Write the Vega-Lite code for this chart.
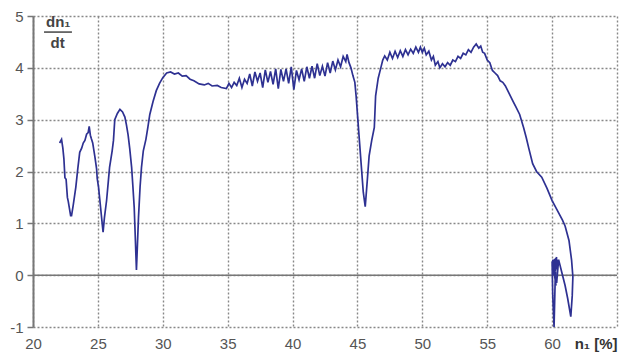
{
  "$schema": "https://vega.github.io/schema/vega-lite/v6.json",
  "width": 584,
  "height": 311,
  "autosize": "none",
  "padding": {"left": 33, "top": 16, "right": 5, "bottom": 36},
  "background": "white",
  "config": {
    "view": {"stroke": null},
    "axis": {"labelFont": "Liberation Sans", "labelFontSize": 15, "labelColor": "#555"}
  },
  "datasets": {
    "curve": [
      {"i":0,"x":22.05,"y":2.55},{"i":1,"x":22.2,"y":2.62},{"i":2,"x":22.3,"y":2.45},{"i":3,"x":22.38,"y":2.25},
      {"i":4,"x":22.46,"y":1.88},{"i":5,"x":22.55,"y":1.85},{"i":6,"x":22.65,"y":1.5},{"i":7,"x":22.72,"y":1.42},
      {"i":8,"x":22.8,"y":1.3},{"i":9,"x":22.9,"y":1.15},{"i":10,"x":22.97,"y":1.15},{"i":11,"x":23.1,"y":1.35},
      {"i":12,"x":23.3,"y":1.7},{"i":13,"x":23.45,"y":2.05},{"i":14,"x":23.6,"y":2.37},{"i":15,"x":23.75,"y":2.45},
      {"i":16,"x":23.87,"y":2.55},{"i":17,"x":24.0,"y":2.6},{"i":18,"x":24.13,"y":2.72},{"i":19,"x":24.25,"y":2.75},
      {"i":20,"x":24.33,"y":2.87},{"i":21,"x":24.42,"y":2.7},{"i":22,"x":24.5,"y":2.63},{"i":23,"x":24.6,"y":2.55},
      {"i":24,"x":24.77,"y":2.28},{"i":25,"x":24.9,"y":2.05},{"i":26,"x":24.95,"y":1.86},{"i":27,"x":25.05,"y":1.7},
      {"i":28,"x":25.15,"y":1.45},{"i":29,"x":25.25,"y":1.2},{"i":30,"x":25.35,"y":0.95},{"i":31,"x":25.4,"y":0.83},
      {"i":32,"x":25.5,"y":1.1},{"i":33,"x":25.67,"y":1.44},{"i":34,"x":25.8,"y":1.8},{"i":35,"x":25.9,"y":2.08},
      {"i":36,"x":26.1,"y":2.4},{"i":37,"x":26.2,"y":2.6},{"i":38,"x":26.3,"y":3.0},{"i":39,"x":26.5,"y":3.12},
      {"i":40,"x":26.7,"y":3.2},{"i":41,"x":26.9,"y":3.15},{"i":42,"x":27.08,"y":3.05},{"i":43,"x":27.2,"y":2.9},
      {"i":44,"x":27.33,"y":2.7},{"i":45,"x":27.45,"y":2.45},{"i":46,"x":27.6,"y":2.08},{"i":47,"x":27.7,"y":1.7},
      {"i":48,"x":27.8,"y":1.3},{"i":49,"x":27.9,"y":0.6},{"i":50,"x":27.97,"y":0.1},{"i":51,"x":28.05,"y":0.6},
      {"i":52,"x":28.13,"y":1.12},{"i":53,"x":28.25,"y":1.7},{"i":54,"x":28.36,"y":2.08},{"i":55,"x":28.5,"y":2.4},
      {"i":56,"x":28.7,"y":2.62},{"i":57,"x":28.85,"y":2.85},{"i":58,"x":29.0,"y":3.1},{"i":59,"x":29.25,"y":3.35},
      {"i":60,"x":29.5,"y":3.56},{"i":61,"x":29.75,"y":3.7},{"i":62,"x":30.0,"y":3.81},{"i":63,"x":30.3,"y":3.9},
      {"i":64,"x":30.6,"y":3.92},{"i":65,"x":30.9,"y":3.88},{"i":66,"x":31.2,"y":3.9},{"i":67,"x":31.5,"y":3.84},
      {"i":68,"x":31.8,"y":3.85},{"i":69,"x":32.1,"y":3.78},{"i":70,"x":32.4,"y":3.75},{"i":71,"x":32.8,"y":3.69},
      {"i":72,"x":33.2,"y":3.67},{"i":73,"x":33.5,"y":3.7},{"i":74,"x":33.8,"y":3.65},{"i":75,"x":34.2,"y":3.66},
      {"i":76,"x":34.5,"y":3.62},{"i":77,"x":34.9,"y":3.6},{"i":78,"x":35.1,"y":3.7},{"i":79,"x":35.3,"y":3.62},
      {"i":80,"x":35.5,"y":3.72},{"i":81,"x":35.7,"y":3.66},{"i":82,"x":35.9,"y":3.8},{"i":83,"x":36.1,"y":3.62},
      {"i":84,"x":36.3,"y":3.78},{"i":85,"x":36.5,"y":3.7},{"i":86,"x":36.7,"y":3.88},{"i":87,"x":36.9,"y":3.65},
      {"i":88,"x":37.1,"y":3.92},{"i":89,"x":37.3,"y":3.74},{"i":90,"x":37.5,"y":3.9},{"i":91,"x":37.7,"y":3.62},
      {"i":92,"x":37.9,"y":3.96},{"i":93,"x":38.1,"y":3.72},{"i":94,"x":38.3,"y":3.93},{"i":95,"x":38.5,"y":3.68},
      {"i":96,"x":38.7,"y":3.98},{"i":97,"x":38.9,"y":3.6},{"i":98,"x":39.1,"y":3.97},{"i":99,"x":39.3,"y":3.74},
      {"i":100,"x":39.5,"y":3.98},{"i":101,"x":39.7,"y":3.7},{"i":102,"x":39.9,"y":4.02},{"i":103,"x":40.1,"y":3.58},
      {"i":104,"x":40.3,"y":3.95},{"i":105,"x":40.5,"y":3.77},{"i":106,"x":40.7,"y":3.98},{"i":107,"x":40.9,"y":3.74},
      {"i":108,"x":41.1,"y":4.02},{"i":109,"x":41.3,"y":3.8},{"i":110,"x":41.5,"y":4.03},{"i":111,"x":41.7,"y":3.8},
      {"i":112,"x":41.9,"y":4.08},{"i":113,"x":42.1,"y":3.85},{"i":114,"x":42.3,"y":4.03},{"i":115,"x":42.5,"y":3.84},
      {"i":116,"x":42.7,"y":4.1},{"i":117,"x":42.9,"y":3.9},{"i":118,"x":43.1,"y":4.13},{"i":119,"x":43.3,"y":3.96},
      {"i":120,"x":43.5,"y":4.15},{"i":121,"x":43.7,"y":4.02},{"i":122,"x":43.9,"y":4.22},{"i":123,"x":44.1,"y":4.12},
      {"i":124,"x":44.2,"y":4.26},{"i":125,"x":44.35,"y":4.1},{"i":126,"x":44.5,"y":4.0},{"i":127,"x":44.65,"y":3.85},
      {"i":128,"x":44.8,"y":3.72},{"i":129,"x":44.9,"y":3.45},{"i":130,"x":45.0,"y":3.11},{"i":131,"x":45.15,"y":2.6},
      {"i":132,"x":45.3,"y":2.1},{"i":133,"x":45.45,"y":1.6},{"i":134,"x":45.6,"y":1.32},{"i":135,"x":45.75,"y":1.8},
      {"i":136,"x":45.9,"y":2.3},{"i":137,"x":46.1,"y":2.6},{"i":138,"x":46.3,"y":2.85},{"i":139,"x":46.4,"y":3.46},
      {"i":140,"x":46.6,"y":3.8},{"i":141,"x":46.8,"y":4.0},{"i":142,"x":46.95,"y":4.15},{"i":143,"x":47.1,"y":4.23},
      {"i":144,"x":47.3,"y":4.15},{"i":145,"x":47.5,"y":4.3},{"i":146,"x":47.7,"y":4.18},{"i":147,"x":47.9,"y":4.32},
      {"i":148,"x":48.1,"y":4.2},{"i":149,"x":48.3,"y":4.33},{"i":150,"x":48.5,"y":4.22},{"i":151,"x":48.7,"y":4.35},
      {"i":152,"x":48.9,"y":4.25},{"i":153,"x":49.1,"y":4.36},{"i":154,"x":49.3,"y":4.28},{"i":155,"x":49.5,"y":4.4},
      {"i":156,"x":49.7,"y":4.3},{"i":157,"x":49.85,"y":4.4},{"i":158,"x":50.0,"y":4.3},{"i":159,"x":50.15,"y":4.38},
      {"i":160,"x":50.3,"y":4.25},{"i":161,"x":50.5,"y":4.32},{"i":162,"x":50.7,"y":4.15},{"i":163,"x":50.85,"y":4.22},
      {"i":164,"x":51.0,"y":4.05},{"i":165,"x":51.2,"y":4.12},{"i":166,"x":51.35,"y":4.0},{"i":167,"x":51.55,"y":4.08},
      {"i":168,"x":51.75,"y":4.02},{"i":169,"x":51.95,"y":4.1},{"i":170,"x":52.15,"y":4.05},{"i":171,"x":52.35,"y":4.15},
      {"i":172,"x":52.55,"y":4.12},{"i":173,"x":52.75,"y":4.22},{"i":174,"x":52.95,"y":4.18},{"i":175,"x":53.15,"y":4.28},
      {"i":176,"x":53.35,"y":4.25},{"i":177,"x":53.55,"y":4.35},{"i":178,"x":53.75,"y":4.3},{"i":179,"x":53.95,"y":4.4},
      {"i":180,"x":54.15,"y":4.46},{"i":181,"x":54.35,"y":4.38},{"i":182,"x":54.5,"y":4.42},{"i":183,"x":54.65,"y":4.3},
      {"i":184,"x":54.8,"y":4.28},{"i":185,"x":55.0,"y":4.15},{"i":186,"x":55.2,"y":4.1},{"i":187,"x":55.4,"y":3.95},
      {"i":188,"x":55.6,"y":3.9},{"i":189,"x":55.8,"y":3.85},{"i":190,"x":56.0,"y":3.75},{"i":191,"x":56.2,"y":3.72},
      {"i":192,"x":56.4,"y":3.65},{"i":193,"x":56.6,"y":3.55},{"i":194,"x":56.8,"y":3.45},{"i":195,"x":57.0,"y":3.35},
      {"i":196,"x":57.2,"y":3.25},{"i":197,"x":57.5,"y":3.1},{"i":198,"x":57.8,"y":2.85},{"i":199,"x":58.0,"y":2.66},
      {"i":200,"x":58.2,"y":2.45},{"i":201,"x":58.5,"y":2.15},{"i":202,"x":58.8,"y":2.0},{"i":203,"x":59.2,"y":1.89},
      {"i":204,"x":59.6,"y":1.68},{"i":205,"x":60.0,"y":1.44},{"i":206,"x":60.4,"y":1.25},{"i":207,"x":60.8,"y":1.06},
      {"i":208,"x":61.0,"y":0.95},{"i":209,"x":61.3,"y":0.67},{"i":210,"x":61.5,"y":0.29},{"i":211,"x":61.6,"y":-0.03},
      {"i":212,"x":61.55,"y":-0.4},{"i":213,"x":61.44,"y":-0.8},{"i":214,"x":61.2,"y":-0.45},{"i":215,"x":61.0,"y":-0.2},
      {"i":216,"x":60.7,"y":0.1},{"i":217,"x":60.5,"y":0.3},{"i":218,"x":60.35,"y":-0.15},{"i":219,"x":60.45,"y":0.3},
      {"i":220,"x":60.2,"y":0.05},{"i":221,"x":60.35,"y":0.35},{"i":222,"x":60.1,"y":0.15},{"i":223,"x":60.3,"y":-0.2},
      {"i":224,"x":60.05,"y":0.3},{"i":225,"x":60.25,"y":0.05},{"i":226,"x":60.15,"y":-1.0},{"i":227,"x":60.05,"y":-0.4},
      {"i":228,"x":60.0,"y":0.25},{"i":229,"x":60.2,"y":0.3},{"i":230,"x":60.1,"y":0.0}
    ]
  },
  "layer": [
    {
      "data": {"values": [{"z": 0}]},
      "mark": {"type": "rule", "color": "#777", "strokeWidth": 1.5},
      "encoding": {"y": {"field": "z", "type": "quantitative"}}
    },
    {
      "data": {"name": "curve"},
      "mark": {"type": "line", "color": "#2e3192", "strokeWidth": 1.7, "clip": false},
      "encoding": {
        "x": {
          "field": "x", "type": "quantitative",
          "scale": {"domain": [20, 65], "nice": false, "zero": false},
          "axis": {
            "title": null,
            "values": [20, 25, 30, 35, 40, 45, 50, 55, 60, 65],
            "labelExpr": "datum.value == 65 ? 'n₁ [%]' : datum.label",
            "labelFontWeight": {"condition": {"test": "datum.value == 65", "value": "bold"}, "value": "normal"},
            "labelAlign": {"condition": {"test": "datum.value == 65", "value": "right"}, "value": "center"},
            "labelColor": {"condition": {"test": "datum.value == 65", "value": "#333"}, "value": "#555"},
            "domain": false,
            "ticks": false,
            "labelPadding": 9,
            "labelFlush": false,
            "labelOverlap": false,
            "grid": true,
            "gridColor": "#888",
            "gridDash": [2, 2],
            "gridWidth": 1.4
          }
        },
        "y": {
          "field": "y", "type": "quantitative",
          "scale": {"domain": [-1, 5], "nice": false},
          "axis": {
            "title": null,
            "values": [-1, 0, 1, 2, 3, 4, 5],
            "labelExpr": "'' + datum.value",
            "domainColor": "#777",
            "domainWidth": 2,
            "tickColor": "#777",
            "tickSize": 6,
            "tickWidth": 1.5,
            "labelPadding": 4,
            "grid": true,
            "gridColor": "#888",
            "gridDash": [2, 2],
            "gridWidth": 1.4
          }
        },
        "order": {"field": "i", "type": "quantitative"}
      }
    },
    {
      "data": {"values": [{"x": 20.85, "x2": 23.0, "y": 4.69}]},
      "mark": {"type": "rule", "color": "#444", "strokeWidth": 1.5},
      "encoding": {
        "x": {"field": "x", "type": "quantitative"},
        "x2": {"field": "x2"},
        "y": {"field": "y", "type": "quantitative"}
      }
    },
    {
      "data": {"values": [{"x": 21.95, "y": 4.88, "t": "dn₁"}, {"x": 21.9, "y": 4.48, "t": "dt"}]},
      "mark": {"type": "text", "font": "Liberation Sans", "fontSize": 15, "fontWeight": "bold", "color": "#444", "align": "center", "baseline": "middle"},
      "encoding": {
        "x": {"field": "x", "type": "quantitative"},
        "y": {"field": "y", "type": "quantitative"},
        "text": {"field": "t"}
      }
    }
  ]
}
